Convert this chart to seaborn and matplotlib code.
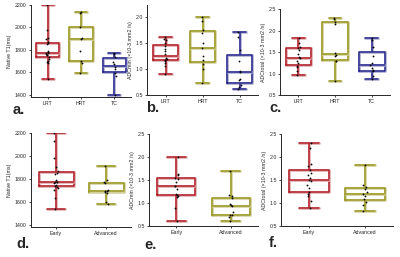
import numpy as np
import pandas as pd
import matplotlib
matplotlib.use("Agg")
import matplotlib.pyplot as plt
import seaborn as sns

# ---- data ----
t1_lrt = [1540, 1680, 1690, 1700, 1720, 1740, 1750, 1750, 1760, 1770,
          1770, 1780, 1790, 1850, 1860, 1870, 1900, 1910, 1980, 2200]
t1_hrt = [1590, 1680, 1700, 1790, 1900, 1910, 2000, 2130, 2140]
t1_tc = [1400, 1570, 1590, 1630, 1650, 1670, 1690, 1740, 1760, 1770]

adcmin_lrt = [0.90, 1.05, 1.12, 1.15, 1.17, 1.18, 1.20, 1.22, 1.28, 1.35, 1.38, 1.45, 1.50, 1.55, 1.57, 1.62]
adcmin_hrt = [0.73, 1.00, 1.10, 1.18, 1.25, 1.40, 1.50, 1.70, 1.75, 1.92, 2.00]
adcmin_tc = [0.62, 0.65, 0.70, 0.78, 0.80, 0.95, 0.97, 1.15, 1.37, 1.62, 1.71]

adctot_lrt = [0.97, 1.05, 1.15, 1.18, 1.25, 1.30, 1.35, 1.38, 1.45, 1.55, 1.60, 1.62, 1.70, 1.83]
adctot_hrt = [0.82, 1.28, 1.30, 1.40, 1.42, 1.47, 2.15, 2.20, 2.27, 2.30]
adctot_tc = [0.88, 0.95, 1.05, 1.08, 1.12, 1.20, 1.25, 1.40, 1.62, 1.78, 1.83]

t1_early = [1540, 1630, 1700, 1720, 1730, 1740, 1750, 1760, 1770, 1770,
            1775, 1790, 1840, 1850, 1870, 1900, 1980, 2130, 2200]
t1_adv = [1580, 1600, 1680, 1685, 1690, 1690, 1700, 1760, 1770, 1790, 1910]

adcmin_early = [0.60, 0.90, 1.13, 1.15, 1.18, 1.20, 1.30, 1.36, 1.38, 1.45, 1.52, 1.55, 1.60, 1.62, 2.00]
adcmin_adv = [0.60, 0.70, 0.73, 0.75, 0.80, 0.93, 0.95, 0.97, 1.10, 1.15, 1.18, 1.70]

adctot_early = [0.90, 1.05, 1.15, 1.20, 1.25, 1.32, 1.40, 1.48, 1.50, 1.55, 1.60, 1.65, 1.72, 1.80, 1.85, 2.20, 2.30]
adctot_adv = [0.83, 0.95, 1.03, 1.08, 1.15, 1.20, 1.25, 1.30, 1.35, 1.40, 1.83]

risk_groups = ["LRT", "HRT", "TC"]
stage_groups = ["Early", "Advanced"]

dark = {"LRT": "#b3222b", "HRT": "#9a9823", "TC": "#2a2a8e",
        "Early": "#b3222b", "Advanced": "#9a9823"}
light = {"LRT": "#e2b3b5", "HRT": "#d8d6a8", "TC": "#b3b3d8",
         "Early": "#e2b3b5", "Advanced": "#d8d6a8"}


def long_df(groups, series):
    rows = []
    for g, vals in zip(groups, series):
        for v in vals:
            rows.append({"group": g, "value": v})
    return pd.DataFrame(rows)


# letter, groups, data, ylabel, ylim, yticks, axes box (px), letter pos (px)
panels = [
    ("a.", risk_groups, [t1_lrt, t1_hrt, t1_tc], "Native T1(ms)", (1380, 2200), [1400, 1600, 1800, 2000, 2200],
     [31, 5, 131, 97], (13, 110)),
    ("b.", risk_groups, [adcmin_lrt, adcmin_hrt, adcmin_tc], "ADCmin (×10-3 mm2 /s)", (0.5, 2.23), [0.5, 1.0, 1.5, 2.0],
     [147, 5, 258, 95], (146, 108)),
    ("c.", risk_groups, [adctot_lrt, adctot_hrt, adctot_tc], "ADCtotal (×10-3 mm2 /s)", (0.5, 2.5), [0.5, 1.0, 1.5, 2.0, 2.5],
     [280, 9, 390, 95], (269, 108)),
    ("d.", stage_groups, [t1_early, t1_adv], "Native T1(ms)", (1380, 2200), [1400, 1600, 1800, 2000, 2200],
     [31, 133, 131, 227], (16, 244)),
    ("e.", stage_groups, [adcmin_early, adcmin_adv], "ADCmin (×10-3 mm2 /s)", (0.5, 2.5), [0.5, 1.0, 1.5, 2.0, 2.5],
     [149, 134, 258, 226], (144, 245)),
    ("f.", stage_groups, [adctot_early, adctot_adv], "ADCtotal (×10-3 mm2 /s)", (0.5, 2.5), [0.5, 1.0, 1.5, 2.0, 2.5],
     [281, 134, 393, 226], (269, 243)),
]

sns.set_style("ticks")
plt.rcParams["font.family"] = ["Liberation Sans", "DejaVu Sans"]

W, H = 400, 257
fig = plt.figure(figsize=(W / 100, H / 100), dpi=100)
np.random.seed(3)

for letter, groups, series, ylabel, ylim, yticks, (x0, y0, x1, y1), (lx, ly) in panels:
    ax = fig.add_axes([x0 / W, 1 - y1 / H, (x1 - x0) / W, (y1 - y0) / H])
    df = long_df(groups, series)
    # soft outer line, then the dark line on top
    sns.boxplot(data=df, x="group", y="value", hue="group", order=groups,
                palette=light, fill=False, whis=(0, 100), width=0.7,
                linewidth=2.0, showfliers=False, legend=False, ax=ax)
    sns.boxplot(data=df, x="group", y="value", hue="group", order=groups,
                palette=dark, fill=False, whis=(0, 100), width=0.7,
                linewidth=1.1, showfliers=False, legend=False, ax=ax)
    sns.stripplot(data=df, x="group", y="value", order=groups, color="black",
                  size=1.3, jitter=0.04, ax=ax)
    ax.set_ylim(*ylim)
    ax.set_yticks(yticks)
    if ylim[1] > 100:
        ax.set_yticklabels([str(t) for t in yticks])
    else:
        ax.set_yticklabels([f"{t:.1f}" for t in yticks])
    ax.set_xlabel("")
    ax.set_ylabel(ylabel, fontsize=3.8, labelpad=2)
    ax.tick_params(axis="both", labelsize=3.8, length=1.5, width=0.6, pad=1.5)
    for s in ["left", "bottom"]:
        ax.spines[s].set_linewidth(0.7)
    sns.despine(ax=ax)
    fig.text(lx / W, 1 - ly / H, letter, fontsize=10.5, fontweight="bold",
             ha="left", va="center")

fig.savefig("out.png", dpi=100)
